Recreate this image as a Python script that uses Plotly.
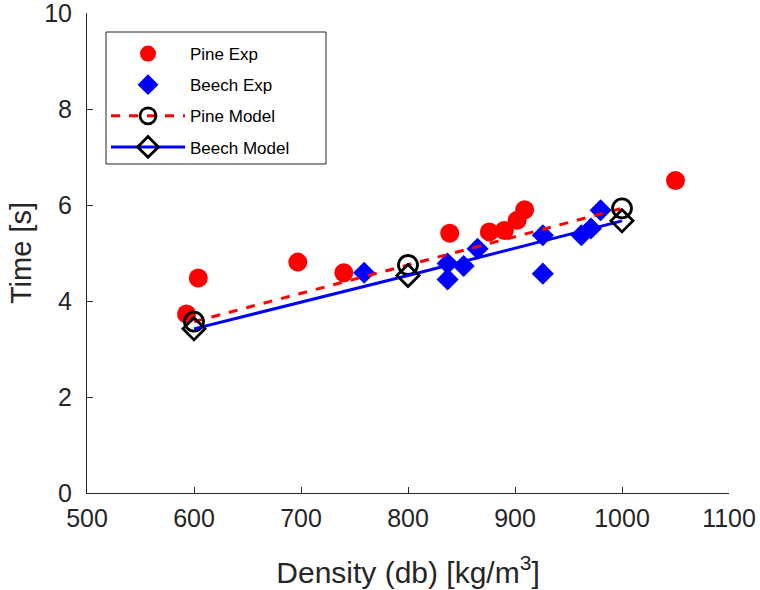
import plotly.graph_objects as go

pine_density = [593, 604, 697, 740, 839, 876, 890, 902, 909, 1050]
pine_time = [3.73, 4.48, 4.81, 4.59, 5.41, 5.44, 5.47, 5.68, 5.90, 6.51]

beech_density = [759, 837, 837, 852, 865, 926, 926, 962, 971, 980]
beech_time = [4.59, 4.78, 4.45, 4.73, 5.09, 5.37, 4.57, 5.37, 5.51, 5.89]

model_density = [600, 800, 1000]
pine_model_time = [3.57, 4.75, 5.93]
beech_model_time = [3.42, 4.53, 5.67]

x_ticks = [500, 600, 700, 800, 900, 1000, 1100]
y_ticks = [0, 2, 4, 6, 8, 10]

FONT = "Liberation Sans, Arial, sans-serif"
AX = "#262626"

fig = go.Figure()
fig.add_trace(go.Scatter(
    x=pine_density, y=pine_time, mode="markers", name="Pine Exp",
    marker=dict(symbol="circle", size=19, color="#ff0000", line=dict(width=0)),
    legendgroup="a"))
fig.add_trace(go.Scatter(
    x=beech_density, y=beech_time, mode="markers", name="Beech Exp",
    marker=dict(symbol="diamond", size=17, color="#0000ff", line=dict(width=0)),
    legendgroup="b"))
fig.add_trace(go.Scatter(
    x=model_density, y=pine_model_time, mode="lines+markers", name="Pine Model",
    line=dict(color="#ff0000", width=3, dash="dash"),
    marker=dict(symbol="circle-open", size=19, color="black", line=dict(width=2.8, color="black")),
    legendgroup="c"))
fig.add_trace(go.Scatter(
    x=model_density, y=beech_model_time, mode="lines+markers", name="Beech Model",
    line=dict(color="#0000ff", width=3),
    marker=dict(symbol="diamond-open", size=17, color="black", line=dict(width=2.8, color="black")),
    legendgroup="d"))

# legend frame
fig.add_shape(type="rect", xref="paper", yref="paper",
              x0=0.0296, x1=0.3723, y0=0.6854, y1=0.9604,
              line=dict(color=AX, width=1), fillcolor="white", layer="above")

fig.update_layout(
    width=760, height=590,
    margin=dict(l=87, r=31, t=13, b=97),
    paper_bgcolor="white", plot_bgcolor="white",
    font=dict(family=FONT, color=AX),
    showlegend=True,
    legend=dict(
        x=0.0296, y=0.952, xanchor="left", yanchor="top",
        bgcolor="rgba(0,0,0,0)", borderwidth=0,
        font=dict(size=17, color="black", family=FONT),
        itemwidth=74, tracegroupgap=6,
        traceorder="grouped",
    ),
    xaxis=dict(
        range=[500, 1100], tickmode="array", tickvals=x_ticks,
        ticktext=[str(v) for v in x_ticks],
        showgrid=False, zeroline=False, showline=True, linecolor=AX, linewidth=1,
        ticks="inside", ticklen=6, tickcolor=AX,
        tickfont=dict(size=25, color=AX), ticklabeloverflow="allow",
        ticklabelstandoff=3,
        automargin=False,
        title=dict(text="Density (db) [kg/m<sup>3</sup>]", font=dict(size=30, color=AX), standoff=30),
    ),
    yaxis=dict(
        range=[0, 10], tickmode="array", tickvals=y_ticks,
        ticktext=[str(v) for v in y_ticks],
        showgrid=False, zeroline=False, showline=True, linecolor=AX, linewidth=1,
        ticks="inside", ticklen=6, tickcolor=AX,
        tickfont=dict(size=25, color=AX), ticklabeloverflow="allow",
        ticklabelstandoff=9,
        automargin=False,
        title=dict(text="Time [s]", font=dict(size=29, color=AX), standoff=4),
    ),
)

fig.write_html("out.html", config={"displayModeBar": False},
               post_script="document.body.style.margin='0';")
